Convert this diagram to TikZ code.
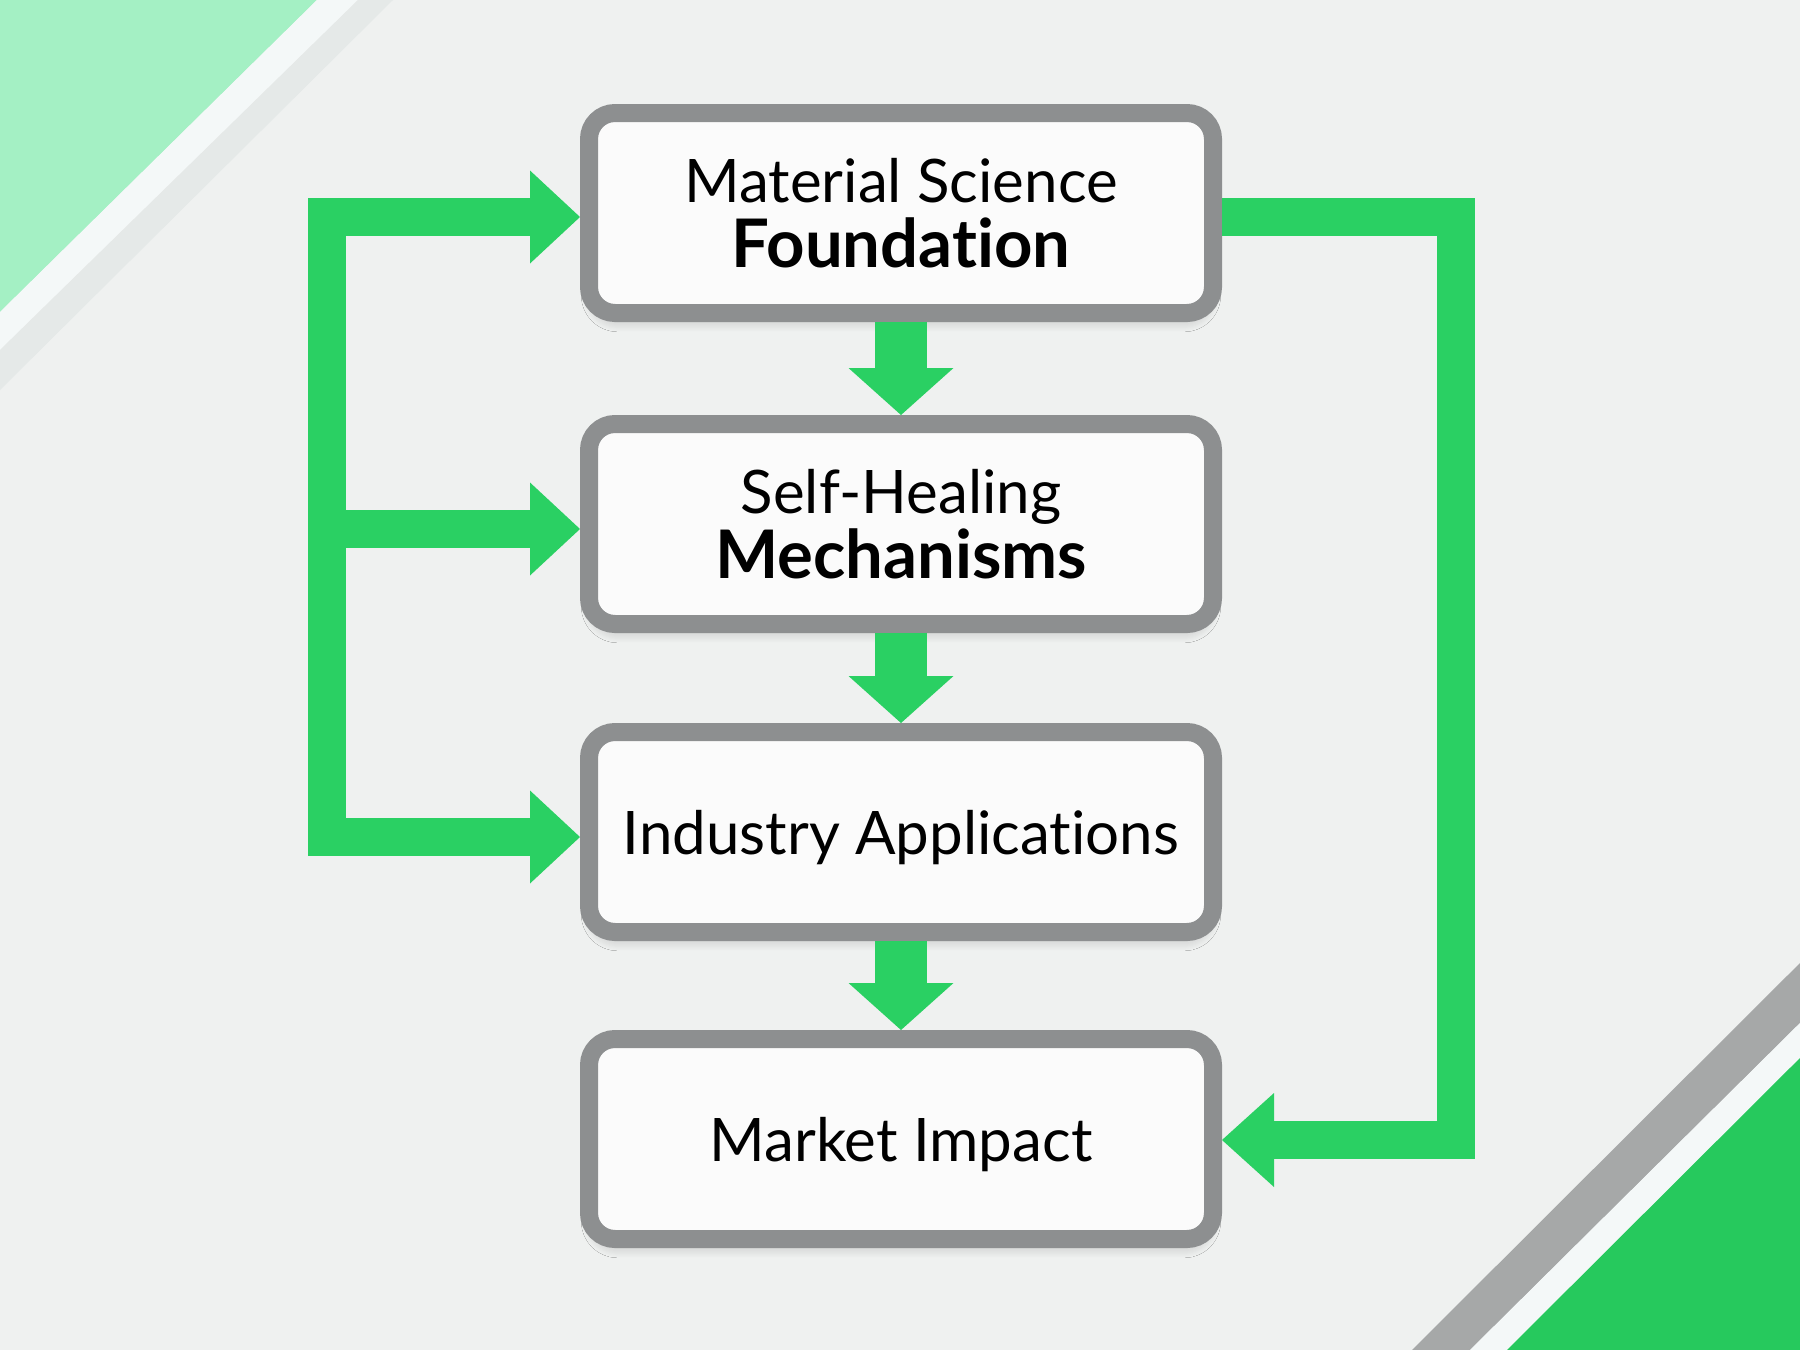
\documentclass[tikz,border=0pt]{standalone}
\usepackage{fontspec}
\setmainfont{Lato}[Ligatures=NoCommon]
\usetikzlibrary{arrows.meta,shadows.blur}
\definecolor{bg}{HTML}{EFF1F0}
\definecolor{boxgray}{HTML}{8D8F90}
\definecolor{boxfill}{HTML}{FBFBFB}
\definecolor{flow}{HTML}{2AD063}
\definecolor{lightgreen}{HTML}{A4F0C4}
\definecolor{lightstripe}{HTML}{E5E9E8}
\definecolor{whitestripe}{HTML}{F4F8F8}
\definecolor{darkstripe}{HTML}{A6A8A8}
\definecolor{cornergreen}{HTML}{26C95D}
\begin{document}
\begin{tikzpicture}[x=1pt,y=-1pt,
  box/.style={draw=boxgray, line width=18pt, fill=boxfill, rounded corners=26pt,
    minimum width=624pt, minimum height=200pt, outer sep=9pt, inner sep=0pt,
    font=\fontsize{60}{65}\selectfont, align=center, text height=44pt, text depth=0pt,
    blur shadow={shadow xshift=0pt, shadow yshift=-9pt, shadow scale=0.99, shadow blur radius=11pt, shadow blur steps=12, shadow opacity=22}},
  twoline/.style={text height=109pt, text depth=0pt},
  conn/.style={draw=flow, line width=38pt, line join=miter, line cap=butt},
  downconn/.style={draw=flow, line width=52pt, line cap=butt,
    -{Triangle[length=47pt,width=105pt,line width=0pt]}},
  htip/.tip={Triangle[length=50pt,width=93pt,line width=0pt]}
]
% background
\fill[bg] (0,0) rectangle (1800,1350);
\useasboundingbox (0,0) rectangle (1800,1350);
% top-left corner decoration
\fill[lightgreen] (0,0) -- (317,0) -- (0,312) -- cycle;
\fill[whitestripe] (317,0) -- (358,0) -- (0,350) -- (0,312) -- cycle;
\fill[lightstripe] (358,0) -- (393,0) -- (0,390) -- (0,350) -- cycle;
% bottom-right corner decoration
\fill[darkstripe] (1412,1350) -- (1800,963) -- (1800,1023) -- (1470,1350) -- cycle;
\fill[whitestripe] (1470,1350) -- (1800,1023) -- (1800,1058) -- (1507,1350) -- cycle;
\fill[cornergreen] (1507,1350) -- (1800,1058) -- (1800,1350) -- cycle;

% boxes
\node[box,twoline] (b1) at (901,213) {Material Science\\{\fontsize{67}{65}\selectfont\bfseries Foundation}};
\node[box,twoline] (b2) at (901,524) {Self-Healing\\{\fontsize{67}{65}\selectfont\bfseries Mechanisms}};
\node[box] (b3) at (901,832) {Industry Applications};
\node[box] (b4) at (901,1139) {Market Impact};

% named corner points of the feedback connectors
\coordinate (L1) at (327,217);
\coordinate (L2) at (327,529);
\coordinate (L3) at (327,837);
\coordinate (R1) at (1456,217);
\coordinate (R2) at (1456,1140);

% down arrows
\draw[downconn] (b1.south) -- (b2.north);
\draw[downconn] (b2.south) -- (b3.north);
\draw[downconn] (b3.south) -- (b4.north);

% left feedback connector
\draw[conn, htip-htip] ([yshift=-4pt]b1.west) -- (L1) -- (L3) -- ([yshift=-5pt]b3.west);
\draw[conn, -htip] (L2) -- ([yshift=-5pt]b2.west);

% right connector
\draw[conn, -{Triangle[length=52pt,width=94pt,line width=0pt]}] ([yshift=-4pt]b1.east) -- (R1) -- (R2) -- ([yshift=-1pt]b4.east);
\end{tikzpicture}
\end{document}
